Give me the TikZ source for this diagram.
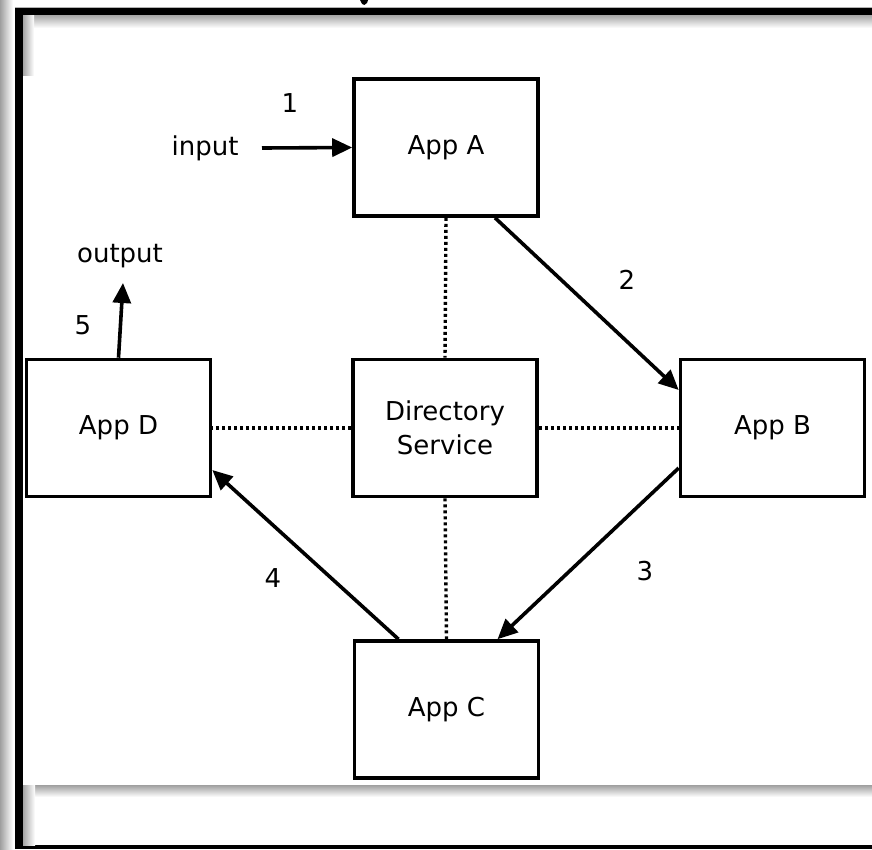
\documentclass[tikz,border=0pt]{standalone}
\usepackage{fontspec}
\setmainfont{DejaVu Sans}
\usetikzlibrary{arrows.meta}
\begin{document}
\begin{tikzpicture}[x=1pt,y=-1pt,
  appbox/.style={draw=black,line width=3.6pt,fill=white,minimum width=184pt,minimum height=137pt,inner sep=0pt,align=center,font=\fontsize{26}{34}\selectfont},
  flow/.style={line width=3.6pt,-{Triangle[length=20pt,width=18pt]}},
  link/.style={line width=3.4pt,dash pattern=on 3pt off 3pt},
  lbl/.style={inner sep=0pt,font=\fontsize{26}{30}\selectfont}]
\useasboundingbox (0,0) rectangle (872,849);
% frame
\fill[white] (0,0) rectangle (872,849);
\shade[left color=gray!75,right color=white] (0,0) rectangle (13,849);
\draw[gray!60,line width=1pt] (15,7.5) -- (872,7.5);
\fill[black] (15,8) rectangle (872,15);
\fill[black] (15,8) rectangle (23,849);
\fill[black] (15,845) rectangle (872,849);
\shade[top color=gray!70,bottom color=white] (23,15) rectangle (872,28);
\shade[left color=gray!70,right color=white] (23,15) rectangle (34,75);
\shade[top color=gray!75,bottom color=white] (23,785) rectangle (872,797);
\shade[left color=gray!70,right color=white] (23,785) rectangle (35,845);
\fill[black] (360,0) -- (368,0) -- (367,3) .. controls (366,5.5) and (363,5.5) .. (361.5,3) -- cycle;
% boxes
\node[appbox] (A) at (446,147.5) {App A};
\node[appbox] (S) at (445,428) {Directory\\Service};
\node[appbox] (B) at (772.5,428) {App B};
\node[appbox] (C) at (446.5,709.5) {App C};
\node[appbox] (D) at (118.5,428) {App D};
% texts
\node[lbl] (in) at (205,148) {input};
\node[lbl] (out) at (120,256) {output};
\coordinate (inStart) at (262,148);
\coordinate (outEnd) at (123,283);
\node[lbl] (n1) at (290,103) {1};
\node[lbl] (n2) at (627,280) {2};
\node[lbl] (n3) at (645,571) {3};
\node[lbl] (n4) at (273,578) {4};
\node[lbl] (n5) at (83,325) {5};
% dotted links
\draw[link] (A.south) -- (S.north);
\draw[link] (S.south) -- (C.north);
\draw[link] (S.west) -- (D.east);
\draw[link] (S.east) -- (B.west);
% flows
\draw[flow] (inStart) -- (A.west);
\draw[flow] ([xshift=49pt]A.south) -- ([yshift=38pt]B.west);
\draw[flow] ([yshift=-40pt]B.west) -- ([xshift=51pt]C.north);
\draw[flow] ([xshift=-48pt]C.north) -- ([yshift=-42pt]D.east);
\draw[flow] (D.north) -- (outEnd);
\end{tikzpicture}
\end{document}
